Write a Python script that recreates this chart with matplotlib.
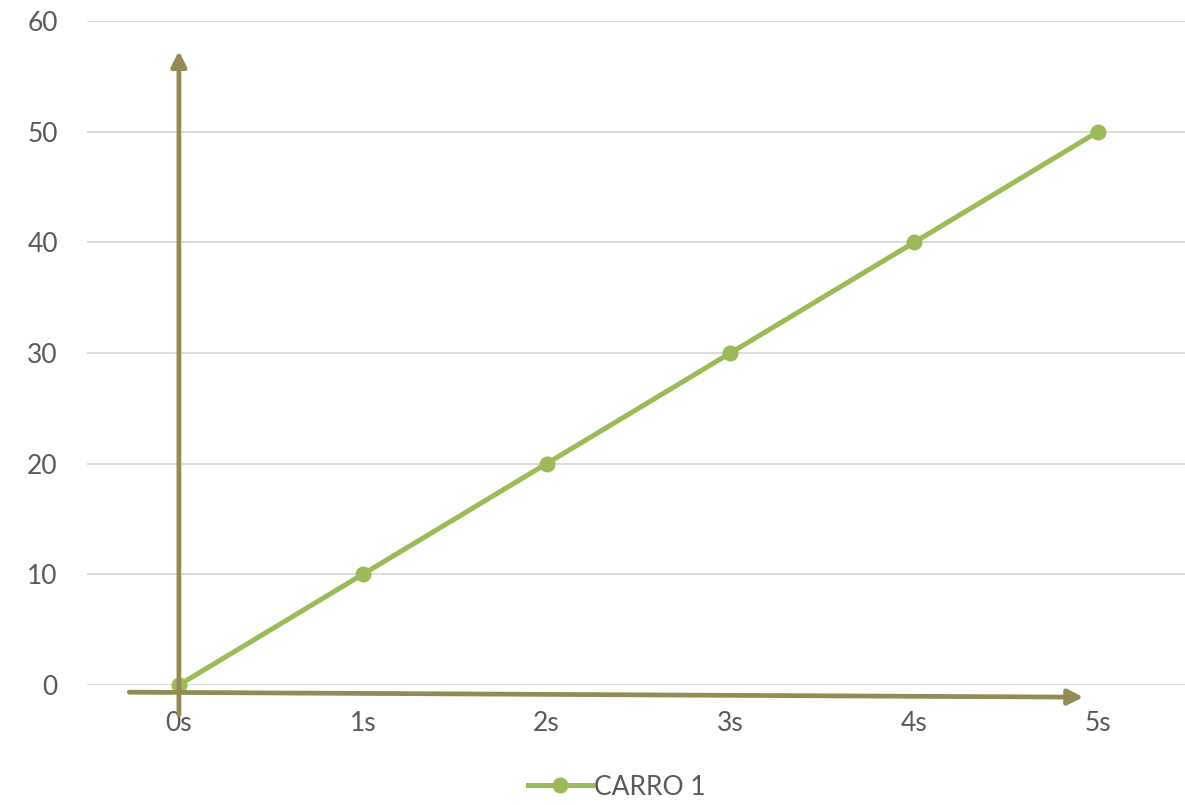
import matplotlib.pyplot as plt

plt.rcParams['font.family'] = ['Lato', 'DejaVu Sans']

# ---------------- data
tempos = ['0s', '1s', '2s', '3s', '4s', '5s']
carro1 = [0, 10, 20, 30, 40, 50]
yticks = [0, 10, 20, 30, 40, 50, 60]

verde = '#9BBB59'
oliva = '#948A54'
cinza = '#595959'

W, H = 1185, 805
fig = plt.figure(figsize=(W / 100, H / 100), dpi=100)
ax = fig.add_axes([87 / W, 1 - 685 / H, (1190 - 87) / W, (685 - 21) / H])

x = list(range(len(tempos)))
ax.plot(x, carro1, '-o', color=verde, linewidth=3.6, markersize=10.5,
        label='CARRO 1', zorder=3, clip_on=False)

ax.set_xlim(-0.5, len(tempos) - 0.5)
ax.set_ylim(0, 60)
ax.set_yticks(yticks)
ax.set_xticks(x)
ax.set_xticklabels(tempos)
ax.tick_params(axis='both', length=0, labelsize=19, labelcolor=cinza)
ax.tick_params(axis='x', pad=19)
ax.tick_params(axis='y', pad=21)
ax.grid(axis='y', color='#D9D9D9', linewidth=1.3)
ax.set_axisbelow(True)
for s in ax.spines.values():
    s.set_visible(False)

# setas desenhadas a mao (eixos do grafico original)
seta = dict(arrowstyle='-|>,head_length=0.9,head_width=0.45', color=oliva,
            lw=3.4, shrinkA=0, shrinkB=0)
ax.annotate('', xy=(0, 57.3), xytext=(0, -2.7), arrowprops=seta,
            annotation_clip=False, zorder=4)
ax.annotate('', xy=(4.92, -1.1), xytext=(-0.27, -0.65), arrowprops=seta,
            annotation_clip=False, zorder=4)

leg = ax.legend(loc='center', bbox_to_anchor=(617 / W, 1 - 787 / H),
                bbox_transform=fig.transFigure, frameon=False, fontsize=19,
                handlelength=2.4, handletextpad=0.1)
for t in leg.get_texts():
    t.set_color(cinza)

fig.savefig('out.png', dpi=100)
plt.close(fig)
